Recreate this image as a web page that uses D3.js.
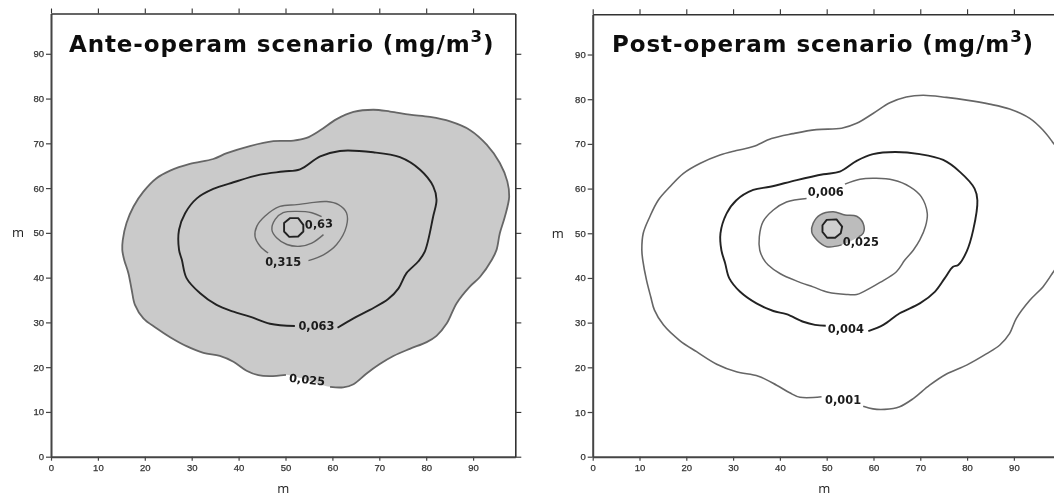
<!DOCTYPE html>
<html>
<head>
<meta charset="utf-8">
<script src="https://cdnjs.cloudflare.com/ajax/libs/d3/7.8.5/d3.min.js"></script>
<style>
  html, body { margin: 0; padding: 0; background: #fff; overflow: hidden; }
  .tick text { font-family: "Liberation Sans", sans-serif; font-size: 9.5px; fill: #333; stroke: #333; stroke-width: 0.25; }
  .axis-name { font-family: "Open Sans", sans-serif; font-size: 13px; fill: #222; }
  .title { font-family: "DejaVu Sans", sans-serif; font-weight: bold; font-size: 23px; letter-spacing: 0.9px; fill: #111; }
  .contour-label { font-family: "DejaVu Sans", sans-serif; font-weight: bold; font-size: 11.4px; fill: #1a1a1a; text-anchor: middle; dominant-baseline: central; }
</style>
</head>
<body>
<div id="chart"></div>
<script>
// axis values shared by both panels
const tickValues = [0, 10, 20, 30, 40, 50, 60, 70, 80, 90];

// ante-operam contours, [x, y] in metres
const ante025 = [[59.5,15.6],[62.3,15.5],[64.5,16.2],[67.3,18.6],[70.1,20.7],[73,22.5],[76.5,24.1],[80.1,25.6],[82.2,27],[84.4,29.8],[86.5,34.3],[89.3,38],[91.5,40.2],[94,44],[95,46.2],[95.7,49.9],[96.8,53.7],[97.7,58.1],[97.3,61.5],[95.7,65.6],[92.9,69.7],[89.3,73],[85.1,74.9],[80.8,75.9],[76.5,76.4],[72.3,77.1],[68.7,77.5],[64.5,77],[60.9,75.4],[57.4,72.9],[54.5,71.2],[51.7,70.6],[47.4,70.5],[42.4,69.4],[37.5,67.8],[34.6,66.5],[29.6,65.4],[25.4,63.9],[22.5,62.2],[19.7,59.2],[17.6,55.9],[16.1,52.2],[15.3,48.4],[15.2,46.2],[15.6,44],[16.5,41],[17.2,37.3],[17.9,33.9],[19.7,30.9],[22.5,28.7],[25.4,26.7],[28.9,24.7],[32.5,23.2],[36,22.5],[38.9,21.2],[41.7,19.2],[44.2,18.2],[46.7,18],[50.1,18.3]];
const ante063 = [[61.1,28.8],[64.5,30.9],[68,32.8],[71.9,35.2],[74.1,37.6],[75.8,41],[78.3,43.6],[79.7,45.8],[81.5,53.7],[82.2,57.4],[81.5,60.4],[78.7,64.1],[74.4,66.9],[68.7,68],[61.6,68.3],[57.4,67.1],[53.1,64.2],[49.5,63.7],[44.6,63],[38.9,61.3],[34.6,59.8],[31.1,57.7],[28.6,54.4],[27.3,50.7],[27.3,46.2],[27.9,44],[28.9,39.9],[31.8,36.5],[35.3,33.9],[38.9,32.4],[42.4,31.3],[46.7,29.7],[52,29.2]];
const ante315 = [[54.9,43.8],[58.1,45.1],[60.9,47.4],[63,51.5],[63,54.5],[61.3,56.3],[58.8,57],[55.2,56.7],[52.4,56.3],[48.8,55.9],[45.6,53.7],[43.9,51.5],[43.5,49.2],[44.6,47],[46.3,45.5]];
const ante63 = [[57.7,53.6],[55.6,54.5],[52.4,54.8],[49.5,54.5],[47.8,53],[47.1,50.7],[48.1,48.9],[50.3,47.4],[53.1,47],[55.6,47.7],[58.1,49.6]];
const anteCore = [[51,53.3],[52.7,53.3],[53.8,51.8],[53.8,50.3],[52.7,49.2],[50.8,49.1],[49.7,50.3],[49.7,52.2]];

// post-operam contours
const post001 = [[57.8,11.3],[59.9,10.7],[62.4,10.6],[65.6,11.2],[68.5,13],[72,16],[75.6,18.5],[79.9,20.5],[84.1,23],[87,25],[89.1,27.6],[90.5,30.9],[93.4,35],[96.2,38],[98.2,41],[100.5,45],[102,52],[102,60],[100.5,67],[98.2,70.5],[96.2,73.1],[93.4,75.7],[89.1,77.8],[84.8,78.9],[79.9,79.8],[75.6,80.4],[70.6,80.9],[67,80.5],[63.5,79.2],[59.9,76.8],[56.4,74.6],[53.2,73.5],[47.8,73.2],[42.8,72.3],[38.2,71.2],[34.3,69.4],[30.7,68.5],[27.2,67.5],[22.9,65.6],[19.4,63.4],[16.5,60.4],[14,57.4],[12.2,53.7],[10.8,50],[10.5,46.2],[10.7,44],[11.5,39.5],[12.4,35.8],[13.2,32.8],[15.1,29.5],[18.6,26],[22.2,23.5],[26.5,20.7],[30.7,19],[35.4,18],[39.3,16],[42.1,14.3],[44.3,13.3],[48.9,13.4]];
const post004 = [[58.9,28.1],[62.1,29.5],[65.6,32.1],[69.9,34.3],[73.1,36.9],[75.2,39.9],[77,42.5],[78.1,42.9],[79.9,45.9],[81.3,50.7],[82.2,57.4],[81.6,60],[78.4,63.8],[74.9,66.4],[69.9,67.7],[64.6,68.2],[59.9,67.7],[56.4,66.2],[52.8,63.8],[49.3,63.2],[43.6,61.9],[37.9,60.4],[34.3,59.7],[30.7,57.4],[28.6,54.4],[27.3,50],[27.5,46.2],[28.3,43.3],[29.2,39.9],[31.5,36.9],[35,34.3],[38.6,32.6],[41.4,31.9],[45,30.2],[47.5,29.5],[49.8,29.3]];
const post006 = [[53.9,61],[57.1,62.1],[60.6,62.3],[64.2,61.9],[67.8,60.4],[70.2,58.2],[71.5,54.4],[71.1,51.5],[69.9,48.5],[68.5,46.2],[66.7,44],[64.9,41.4],[61.4,39],[57.8,36.9],[56.4,36.3],[54.2,36.3],[50.3,36.8],[47.1,38],[43.6,39.3],[40,41],[37.5,42.9],[36.4,44.4],[35.7,46.2],[35.6,49.2],[36.4,52.6],[38.6,55.2],[41.4,57],[45.7,57.8]];
const post025 = [[53.2,47.4],[50,47],[47.9,48.5],[46.8,50.3],[47.1,52.2],[48.6,54.1],[51.4,54.8],[53.9,54.1],[56.4,53.8],[57.8,52.2],[57.8,50],[56.8,49.2]];
const postCore = [[50,53],[52.1,53.1],[53.3,51.5],[53,50],[51.8,49],[50.1,49],[49.1,50.3],[49.1,51.8]];

// contour labels: text, x, y, rotation
const anteLabels = [['0,63',57.1,52,-3],['0,315',49.5,43.6,0],['0,063',56.6,29.2,0],['0,025',54.6,17.2,6]];
const postLabels = [['0,006',49.8,59.3,0],['0,025',57.3,48,0],['0,004',54.1,28.5,0],['0,001',53.5,12.7,0]];

const svg = d3.select('#chart').append('svg')
  .attr('width', 1054)
  .attr('height', 497)
  .style('display', 'block');

const soften = svg.append('defs').append('filter').attr('id', 'soften');
soften.append('feGaussianBlur').attr('stdDeviation', 0.35);

function drawPanel(opts) {
  const g = svg.append('g').attr('filter', 'url(#soften)');
  const x = d3.scaleLinear().domain([0, 99]).range(opts.xRange);
  const y = d3.scaleLinear().domain([0, 99]).range(opts.yRange);
  const line = d3.line().x(d => x(d[0])).y(d => y(d[1])).curve(d3.curveCatmullRom.alpha(0.5));
  const closed = d3.line().x(d => x(d[0])).y(d => y(d[1])).curve(d3.curveCatmullRomClosed.alpha(0.5));
  const core = d3.line().x(d => x(d[0])).y(d => y(d[1])).curve(d3.curveLinearClosed);

  // filled regions first
  opts.fills.forEach(f => {
    g.append('path').attr('d', closed(f.points)).attr('fill', f.color);
  });

  opts.contours.forEach(c => {
    g.append('path')
      .attr('d', c.core ? core(c.points) : line(c.points))
      .attr('fill', 'none')
      .attr('stroke', c.color)
      .attr('stroke-width', c.width)
      .attr('stroke-linejoin', 'round');
  });

  // axes
  const left = g.append('g').attr('transform', `translate(${opts.xRange[0]},0)`)
    .call(d3.axisLeft(y).tickValues(tickValues).tickSize(5).tickSizeOuter(0).tickPadding(2));
  const bottom = g.append('g').attr('transform', `translate(0,${opts.yRange[0]})`)
    .call(d3.axisBottom(x).tickValues(tickValues).tickSize(4).tickSizeOuter(0).tickPadding(4));
  const top = g.append('g').attr('transform', `translate(0,${opts.yRange[1]})`)
    .call(d3.axisTop(x).tickValues(tickValues).tickSize(5).tickSizeOuter(0).tickFormat(''));
  const right = g.append('g').attr('transform', `translate(${opts.xRange[1]},0)`)
    .call(d3.axisRight(y).tickValues(tickValues).tickSize(6).tickSizeOuter(0).tickFormat(''));
  [left, bottom].forEach(a => {
    a.selectAll('.domain').attr('stroke', '#444').attr('stroke-width', 2);
    a.selectAll('.tick line').attr('stroke', '#444').attr('stroke-width', 1.2);
  });
  [top, right].forEach(a => {
    a.selectAll('.domain').attr('stroke', '#333').attr('stroke-width', 1.6);
    a.selectAll('.tick line').attr('stroke', '#333').attr('stroke-width', 1.1);
  });

  // contour value labels
  g.selectAll('.contour-label')
    .data(opts.labels)
    .enter().append('text')
    .attr('class', 'contour-label')
    .attr('transform', d => `translate(${x(d[1])},${y(d[2])}) rotate(${d[3]})`)
    .text(d => d[0]);

  // axis names
  g.append('text').attr('class', 'axis-name')
    .attr('x', x(49.5)).attr('y', 492.5).attr('text-anchor', 'middle').text('m');
  g.append('text').attr('class', 'axis-name')
    .attr('x', opts.nameX).attr('y', y(49)).attr('text-anchor', 'middle').text('m');

  // title with superscript
  const title = g.append('text').attr('class', 'title')
    .attr('x', opts.titleX).attr('y', 52);
  title.append('tspan').text(opts.title);
  title.append('tspan').attr('font-size', 16.5).attr('dy', -10).text('3');
  title.append('tspan').attr('dy', 10).text(')');
}

drawPanel({
  xRange: [51, 515.3],
  yRange: [456.7, 13.5],
  nameX: 18,
  titleX: 69,
  title: 'Ante-operam scenario (mg/m',
  fills: [{points: ante025, color: '#cacaca'}],
  contours: [
    {points: ante025, color: '#666', width: 1.8},
    {points: ante063, color: '#222', width: 1.9},
    {points: ante315, color: '#666', width: 1.4},
    {points: ante63, color: '#666', width: 1.4},
    {points: anteCore, color: '#222', width: 1.9, core: true}
  ],
  labels: anteLabels
});

drawPanel({
  xRange: [592.7, 1056],
  yRange: [456.7, 14.3],
  nameX: 557.7,
  titleX: 612,
  title: 'Post-operam scenario (mg/m',
  fills: [{points: post025, color: '#bcbcbc'}, {points: postCore, color: '#cfcfcf'}],
  contours: [
    {points: post001, color: '#666', width: 1.6},
    {points: post004, color: '#222', width: 1.9},
    {points: post006, color: '#666', width: 1.5},
    {points: post025, color: '#666', width: 1.5},
    {points: postCore, color: '#222', width: 1.9, core: true}
  ],
  labels: postLabels
});
</script>
</body>
</html>
